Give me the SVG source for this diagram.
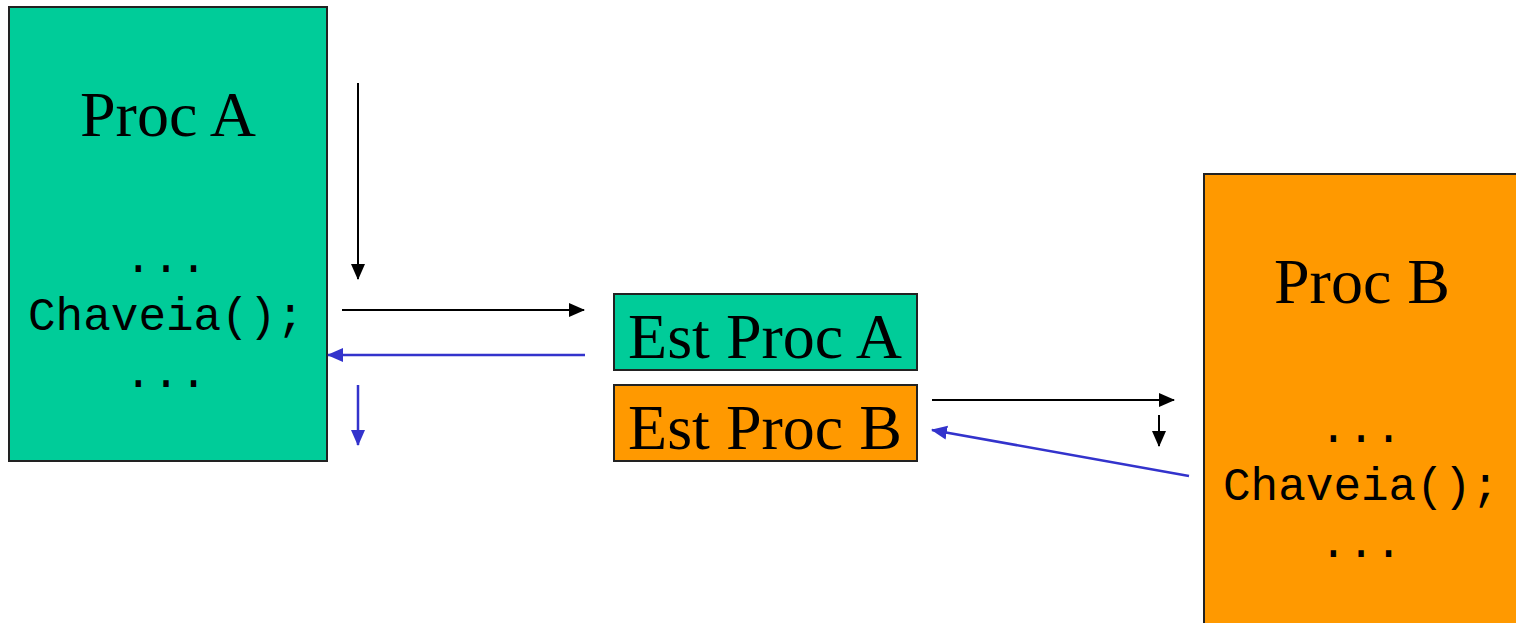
<svg xmlns="http://www.w3.org/2000/svg" width="1516" height="623" viewBox="0 0 1516 623">
<style>
.box{stroke:#222;stroke-width:2}
.green{fill:#00CC99}
.orange{fill:#FF9900}
.title{font-family:"Liberation Serif","Times New Roman",serif;font-size:64px;fill:#000;text-anchor:middle}
.code{font-family:"Liberation Mono","Courier New",monospace;font-size:46px;fill:#000;text-anchor:middle}
.blk{stroke:#000;stroke-width:2;fill:none}
.blu{stroke:#3333CC;stroke-width:2.5;fill:none}
</style>
<defs>
<marker id="ab" markerUnits="userSpaceOnUse" markerWidth="16" markerHeight="16" viewBox="0 0 16 16" refX="15" refY="8" orient="auto"><path d="M0,1 L16,8 L0,15 Z" fill="#000"/></marker>
<marker id="au" markerUnits="userSpaceOnUse" markerWidth="16" markerHeight="16" viewBox="0 0 16 16" refX="15" refY="8" orient="auto"><path d="M0,1 L16,8 L0,15 Z" fill="#3333CC"/></marker>
</defs>
<rect width="1516" height="623" fill="#fff"/>
<g id="procA">
<rect class="box green" x="9" y="7" width="318" height="454"/>
<text class="title" x="168" y="136">Proc A</text>
<text class="code" x="166" y="272">...</text>
<text class="code" x="166" y="330">Chaveia();</text>
<text class="code" x="166" y="387">...</text>
</g>
<g id="estA">
<rect class="box green" x="614" y="294" width="303" height="76"/>
<text class="title" x="765" y="358">Est Proc A</text>
</g>
<g id="estB">
<rect class="box orange" x="614" y="385" width="303" height="76"/>
<text class="title" x="765" y="449">Est Proc B</text>
</g>
<g id="procB">
<rect class="box orange" x="1204" y="174" width="330" height="470"/>
<text class="title" x="1362" y="303">Proc B</text>
<text class="code" x="1361" y="442">...</text>
<text class="code" x="1361" y="500">Chaveia();</text>
<text class="code" x="1361" y="557">...</text>
</g>
<g id="connectors">
<line class="blk" x1="358" y1="83" x2="358" y2="279" marker-end="url(#ab)"/>
<line class="blk" x1="342" y1="310" x2="584" y2="310" marker-end="url(#ab)"/>
<line class="blu" x1="585" y1="355" x2="328" y2="355" marker-end="url(#au)"/>
<line class="blu" x1="358" y1="385" x2="358" y2="445" marker-end="url(#au)"/>
<line class="blk" x1="932" y1="400" x2="1174" y2="400" marker-end="url(#ab)"/>
<line class="blk" x1="1159" y1="415" x2="1159" y2="446" marker-end="url(#ab)"/>
<line class="blu" x1="1189" y1="476" x2="932" y2="430" marker-end="url(#au)"/>
</g>
</svg>
